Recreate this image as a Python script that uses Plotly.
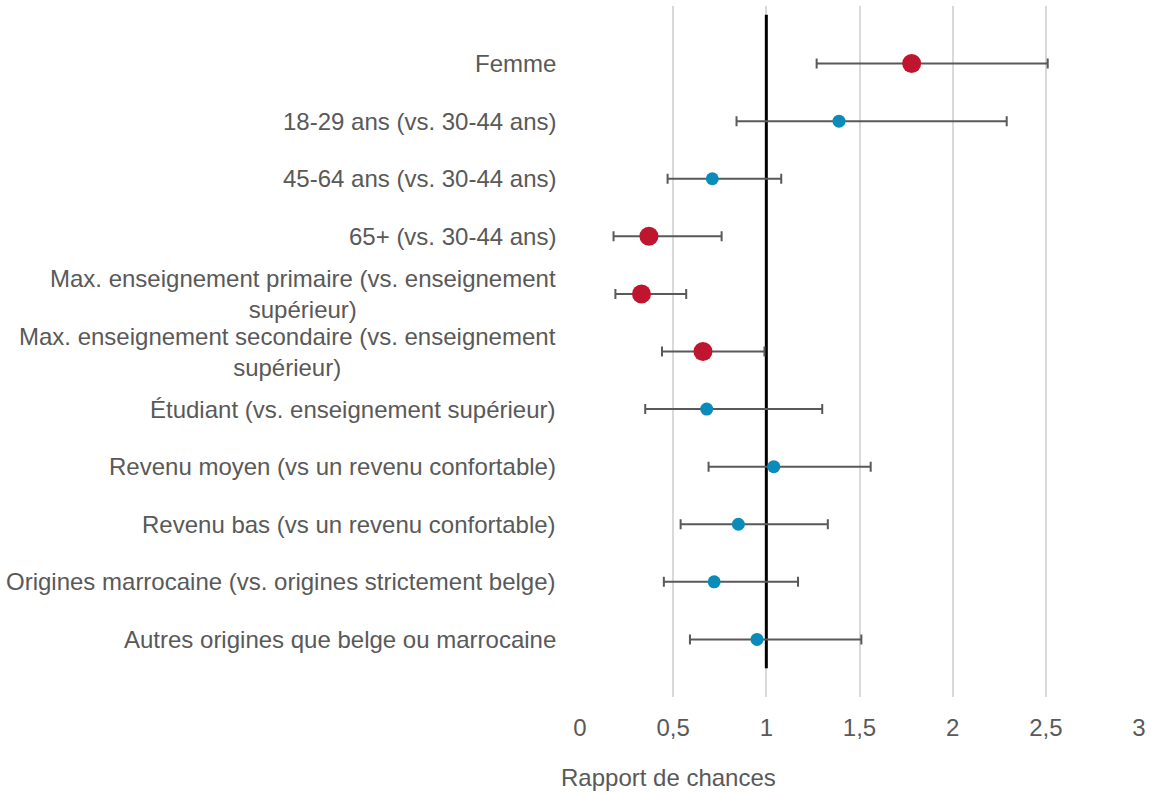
import plotly.graph_objects as go

# Odds ratios with 95% confidence intervals, top row first
labels = [
    "Femme",
    "18-29 ans (vs. 30-44 ans)",
    "45-64 ans (vs. 30-44 ans)",
    "65+ (vs. 30-44 ans)",
    "Max. enseignement primaire (vs. enseignement<br>supérieur)",
    "Max. enseignement secondaire (vs. enseignement<br>supérieur)",
    "Étudiant (vs. enseignement supérieur)",
    "Revenu moyen (vs un revenu confortable)",
    "Revenu bas (vs un revenu confortable)",
    "Origines marrocaine (vs. origines strictement belge)",
    "Autres origines que belge ou marrocaine",
]
odds = [1.78, 1.39, 0.71, 0.37, 0.33, 0.66, 0.68, 1.04, 0.85, 0.72, 0.95]
ci_low = [1.27, 0.84, 0.47, 0.18, 0.19, 0.44, 0.35, 0.69, 0.54, 0.45, 0.59]
ci_high = [2.51, 2.29, 1.08, 0.76, 0.57, 0.99, 1.30, 1.56, 1.33, 1.17, 1.51]
significant = [True, False, False, True, True, True, False, False, False, False, False]

x_ticks = [0, 0.5, 1, 1.5, 2, 2.5, 3]
x_title = "Rapport de chances"
ref_value = 1

RED = "#C0152F"
BLUE = "#0B8BB9"
GREY_TEXT = "#595959"
FONT = "Liberation Sans, Arial, sans-serif"

n = len(labels)
ypos = [n - i for i in range(n)]  # 11 at top ... 1 at bottom

fig = go.Figure()

# Reference line at odds ratio = 1
fig.add_trace(go.Scatter(
    x=[ref_value, ref_value], y=[0.5, 11.85], mode="lines",
    line=dict(color="black", width=3),
    showlegend=False, hoverinfo="skip",
))

for sig, color, size in [(False, BLUE, 13), (True, RED, 19)]:
    idx = [i for i in range(n) if significant[i] == sig]
    fig.add_trace(go.Scatter(
        x=[odds[i] for i in idx],
        y=[ypos[i] for i in idx],
        mode="markers",
        marker=dict(color=color, size=size, line=dict(width=0)),
        error_x=dict(
            type="data",
            symmetric=False,
            array=[ci_high[i] - odds[i] for i in idx],
            arrayminus=[odds[i] - ci_low[i] for i in idx],
            color="#595959",
            thickness=2,
            width=5,
        ),
        showlegend=False,
        hoverinfo="skip",
    ))

# Category labels, right-aligned; wrapped ones centred line by line
annotations = []
for label, y in zip(labels, ypos):
    annotations.append(dict(
        x=0, xref="x", y=y, yref="y",
        xanchor="right", yanchor="middle", align="center",
        xshift=-22,
        text=label, showarrow=False,
        font=dict(family=FONT, size=24, color=GREY_TEXT),
    ))

annotations.append(dict(
    x=0.475, xref="x", y=-0.116, yref="paper",
    xanchor="center", yanchor="middle",
    text=x_title, showarrow=False,
    font=dict(family=FONT, size=24, color=GREY_TEXT),
))

fig.update_layout(
    width=1152, height=793,
    margin=dict(l=580, r=10, t=6, b=96),
    paper_bgcolor="white", plot_bgcolor="white",
    separators=", ",
    font=dict(family=FONT, size=24, color=GREY_TEXT),
    annotations=annotations,
    xaxis=dict(
        range=[0, 3], tickvals=x_ticks,
        showgrid=True, gridcolor="#D9D9D9", gridwidth=2,
        zeroline=False, showline=False, ticks="",
        ticklabelstandoff=14,
        tickfont=dict(family=FONT, size=24, color=GREY_TEXT),
    ),
    yaxis=dict(
        range=[0, 12], showgrid=False, zeroline=False, showline=False,
        showticklabels=False, ticks="",
    ),
)

fig.write_html("out.html")
